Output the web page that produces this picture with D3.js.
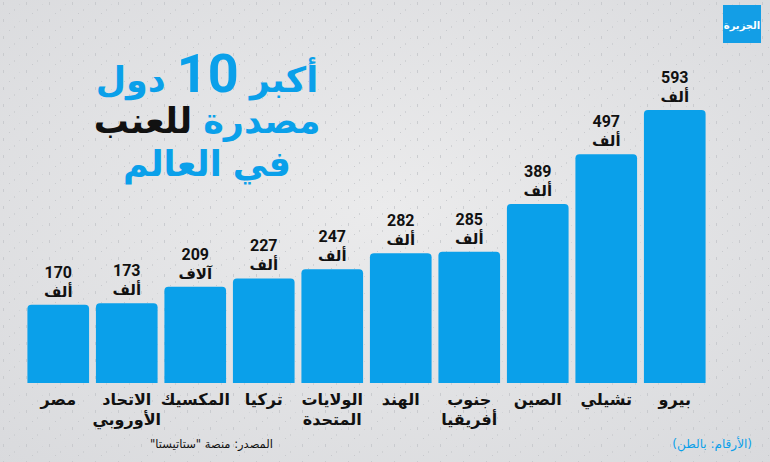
<!DOCTYPE html>
<html>
<head>
<meta charset="utf-8">
<script src="https://cdn.jsdelivr.net/npm/d3@7"></script>
<style>
  html, body { margin: 0; padding: 0; background: #e5e6e8; }
  svg { display: block; }
</style>
</head>
<body>
<svg id="chart"></svg>
<script>
// data, left to right as drawn
const countries = ["مصر", "الاتحاد\nالأوروبي", "المكسيك", "تركيا", "الولايات\nالمتحدة",
                   "الهند", "جنوب\nأفريقيا", "الصين", "تشيلي", "بيرو"];
const tonnes = [170, 173, 209, 227, 247, 282, 285, 389, 497, 593];
const unitLabels = ["ألف", "ألف", "آلاف", "ألف", "ألف", "ألف", "ألف", "ألف", "ألف", "ألف"];

const svg_size = {width: 770, height: 462};
const blue = "#0aa0ea";
const arabicFont = "'DejaVu Sans', sans-serif";
const numFont = "Roboto, 'Liberation Sans', sans-serif";

const svg = d3.select("#chart")
    .attr("width", svg_size.width)
    .attr("height", svg_size.height);

// background with light speckle texture
const defs = svg.append("defs");
const grad = defs.append("radialGradient").attr("id", "bg")
    .attr("cx", "50%").attr("cy", "45%").attr("r", "75%");
grad.append("stop").attr("offset", "0%").attr("stop-color", "#ebebec");
grad.append("stop").attr("offset", "100%").attr("stop-color", "#d9dadd");

const pat = defs.append("pattern").attr("id", "speckle")
    .attr("width", 23).attr("height", 17).attr("patternUnits", "userSpaceOnUse");
pat.append("rect").attr("x", 3).attr("y", 2).attr("width", 1).attr("height", 3).attr("fill", "#c4c6ca");
pat.append("rect").attr("x", 14).attr("y", 9).attr("width", 1).attr("height", 2).attr("fill", "#cbcdd0");
pat.append("rect").attr("x", 9).attr("y", 13).attr("width", 1).attr("height", 1).attr("fill", "#c2c4c8");
pat.append("rect").attr("x", 19).attr("y", 4).attr("width", 1).attr("height", 1).attr("fill", "#cfd1d4");

svg.append("rect").attr("width", svg_size.width).attr("height", svg_size.height).attr("fill", "url(#bg)");
svg.append("rect").attr("width", svg_size.width).attr("height", svg_size.height)
    .attr("fill", "url(#speckle)").attr("opacity", 0.8);

// scales
const x = d3.scaleBand().domain(countries).range([24, 709]).paddingInner(0.1).paddingOuter(0.05);
const y = d3.scaleLinear().domain([0, 593]).range([383, 110]);

function topRounded(x0, y0, w, h, r) {
    return `M${x0},${y0 + h} V${y0 + r} Q${x0},${y0} ${x0 + r},${y0} H${x0 + w - r} Q${x0 + w},${y0} ${x0 + w},${y0 + r} V${y0 + h} Z`;
}

const bars = svg.append("g");
countries.forEach((c, i) => {
    const bx = x(c), bw = x.bandwidth();
    const top = y(tonnes[i]);
    bars.append("path")
        .attr("d", topRounded(bx, top, bw, y(0) - top, 4))
        .attr("fill", blue);

    const cx = bx + bw / 2;
    bars.append("text")
        .attr("x", cx).attr("y", top - 27)
        .attr("text-anchor", "middle")
        .attr("font-family", numFont).attr("font-weight", "bold").attr("font-size", 16)
        .attr("fill", "#111").text(tonnes[i]);
    bars.append("text")
        .attr("x", cx).attr("y", top - 8)
        .attr("text-anchor", "middle").attr("direction", "rtl")
        .attr("font-family", arabicFont).attr("font-weight", "bold").attr("font-size", 15)
        .attr("fill", "#111").text(unitLabels[i]);

    c.split("\n").forEach((line, j) => {
        bars.append("text")
            .attr("x", cx).attr("y", 405 + j * 20)
            .attr("text-anchor", "middle").attr("direction", "rtl")
            .attr("font-family", arabicFont).attr("font-weight", "bold").attr("font-size", 16)
            .attr("fill", "#111").text(line);
    });
});

// title, built right-to-left from segments
const titleLines = [
    {y: 92, parts: [
        {t: "أكبر", fill: blue, size: 35, font: arabicFont},
        {t: "10", fill: blue, size: 54, font: numFont},
        {t: "دول", fill: blue, size: 35, font: arabicFont}]},
    {y: 133, parts: [
        {t: "مصدرة", fill: blue, size: 35, font: arabicFont},
        {t: "للعنب", fill: "#111", size: 35, font: arabicFont}]},
    {y: 176, parts: [
        {t: "في", fill: blue, size: 35, font: arabicFont},
        {t: "العالم", fill: blue, size: 35, font: arabicFont}]}
];
const titleCenter = 207;
const gap = 11;
const title = svg.append("g");
titleLines.forEach(line => {
    const nodes = line.parts.map(p => title.append("text")
        .attr("y", line.y)
        .attr("text-anchor", "start")
        .attr("font-family", p.font).attr("font-weight", "bold").attr("font-size", p.size)
        .attr("fill", p.fill).text(p.t));
    const widths = nodes.map(n => n.node().getComputedTextLength());
    const total = d3.sum(widths) + gap * (widths.length - 1);
    let right = titleCenter + total / 2;
    nodes.forEach((n, k) => {
        n.attr("x", right - widths[k]);
        right -= widths[k] + gap;
    });
});

// logo
const logo = svg.append("g").attr("transform", "translate(723,5)");
logo.append("rect").attr("width", 38).attr("height", 38).attr("fill", "#139ee6");
logo.append("text").attr("x", 19).attr("y", 24)
    .attr("text-anchor", "middle").attr("direction", "rtl")
    .attr("font-family", arabicFont).attr("font-weight", "bold").attr("font-size", 10)
    .attr("fill", "#fff").text("الجزيرة");

// footer
svg.append("text").attr("x", 150).attr("y", 448)
    .attr("text-anchor", "end").attr("direction", "rtl")
    .attr("font-family", arabicFont).attr("font-size", 11.5).attr("fill", "#111")
    .text("المصدر: منصة \"ستاتيستا\"");
svg.append("text").attr("x", 752).attr("y", 448)
    .attr("text-anchor", "start").attr("direction", "rtl")
    .attr("font-family", arabicFont).attr("font-size", 12).attr("fill", blue)
    .text("(الأرقام: بالطن)");
</script>
</body>
</html>
